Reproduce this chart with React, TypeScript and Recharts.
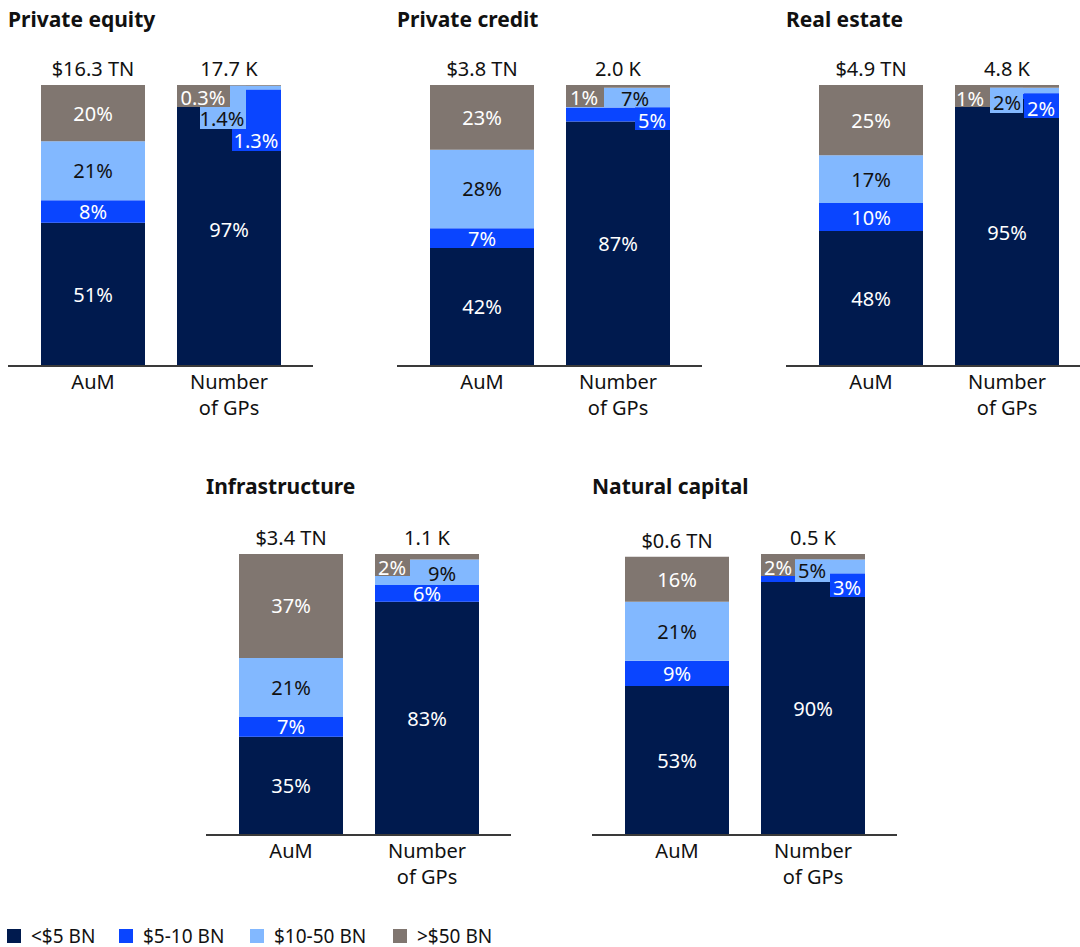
import React from "react";
import { BarChart, Bar, XAxis, YAxis, LabelList } from "recharts";

// size buckets, stacked bottom to top
const BUCKETS = ["<$5 BN", "$5-10 BN", "$10-50 BN", ">$50 BN"];
const COLORS = ["#001a4e", "#0a45ff", "#82b8ff", "#807670"];
const TEXT_ON = ["#ffffff", "#ffffff", "#111111", "#ffffff"];
const CATEGORIES = ["AuM", "Number\nof GPs"];

// % share per bucket
const peAum = [51, 8, 21, 20];
const peGps = [97, 1.3, 1.4, 0.3];
const pcAum = [42, 7, 28, 23];
const pcGps = [87, 5, 7, 1];
const reAum = [48, 10, 17, 25];
const reGps = [95, 2, 2, 1];
const infAum = [35, 7, 21, 37];
const infGps = [83, 6, 9, 2];
const ncAum = [53, 9, 21, 16];
const ncGps = [90, 3, 5, 2];

// totals shown above each bar
const peTotals = ["$16.3 TN", "17.7 K"];
const pcTotals = ["$3.8 TN", "2.0 K"];
const reTotals = ["$4.9 TN", "4.8 K"];
const infTotals = ["$3.4 TN", "1.1 K"];
const ncTotals = ["$0.6 TN", "0.5 K"];

const FONT = "'Noto Sans', 'Open Sans', sans-serif";
const INK = "#111111";
const PLOT_TOP = 50;
const PLOT_H = 281;
const CHART_W = 305;

// thin segments on the GP bar get a coloured tag instead of an inline label:
// box = [left, right, bottom], text = [cx, cy], px from bar left / stack top
type Callout = { box?: [number, number, number]; text: [number, number] };
const CALLOUTS: Record<string, Record<number, Callout>> = {
  "Private equity": {
    1: { box: [55, 104, 66], text: [79, 55] },
    2: { box: [23, 69, 44], text: [45, 33] },
    3: { box: [0, 53, 22], text: [26, 12] },
  },
  "Private credit": {
    1: { box: [69, 104, 45], text: [86, 35] },
    2: { text: [69, 13] },
    3: { box: [0, 38, 22], text: [18, 12] },
  },
  "Real estate": {
    1: { box: [69, 104, 33], text: [86, 23] },
    2: { box: [35, 68, 28], text: [52, 17] },
    3: { box: [0, 35, 22], text: [15, 13] },
  },
  Infrastructure: {
    2: { text: [67, 19] },
    3: { box: [0, 35, 22], text: [17, 13] },
  },
  "Natural capital": {
    1: { box: [69, 104, 43], text: [86, 33] },
    2: { box: [34, 69, 28], text: [51, 16] },
    3: { box: [0, 34, 22], text: [17, 13] },
  },
};

type Panel = {
  title: string;
  aum: number[];
  gps: number[];
  totals: string[];
  left: number;
  top: number;
};

const PANELS: Panel[] = [
  { title: "Private equity", aum: peAum, gps: peGps, totals: peTotals, left: 8, top: 35 },
  { title: "Private credit", aum: pcAum, gps: pcGps, totals: pcTotals, left: 397, top: 35 },
  { title: "Real estate", aum: reAum, gps: reGps, totals: reTotals, left: 786, top: 35 },
  { title: "Infrastructure", aum: infAum, gps: infGps, totals: infTotals, left: 206, top: 504 },
  { title: "Natural capital", aum: ncAum, gps: ncGps, totals: ncTotals, left: 592, top: 504 },
];

const box = (p: any) => {
  const vb = p.viewBox && p.viewBox.width != null ? p.viewBox : p;
  return { x: Number(vb.x), y: Number(vb.y), w: Number(vb.width), h: Number(vb.height) };
};

const segmentLabel = (panel: string, s: number) => (p: any) => {
  if (p.value == null) return null;
  const { x, y, w, h } = box(p);
  const txt = `${p.value}%`;
  const c = p.index === 1 ? CALLOUTS[panel]?.[s] : undefined;
  if (c) {
    return (
      <g>
        {c.box && (
          <rect
            x={x + c.box[0]}
            y={y}
            width={c.box[1] - c.box[0]}
            height={PLOT_TOP + c.box[2] - y}
            fill={COLORS[s]}
          />
        )}
        <text
          x={x + c.text[0]}
          y={PLOT_TOP + c.text[1]}
          textAnchor="middle"
          dominantBaseline="central"
          fontSize={20}
          fontFamily={FONT}
          fill={TEXT_ON[s]}
        >
          {txt}
        </text>
      </g>
    );
  }
  return (
    <text
      x={x + w / 2}
      y={y + h / 2}
      textAnchor="middle"
      dominantBaseline="central"
      fontSize={20}
      fontFamily={FONT}
      fill={TEXT_ON[s]}
    >
      {txt}
    </text>
  );
};

const totalLabel = (totals: string[]) => (p: any) => {
  const { x, y, w } = box(p);
  return (
    <text x={x + w / 2} y={y - 9} textAnchor="middle" fontSize={20} fontFamily={FONT} fill={INK}>
      {totals[p.index]}
    </text>
  );
};

const CategoryTick = (p: any) => {
  const lines = String(p.payload.value).split("\n");
  return (
    <g transform={`translate(${p.x},${p.y})`}>
      {lines.map((l, i) => (
        <text key={i} x={0} y={23 + i * 26} textAnchor="middle" fontSize={20} fontFamily={FONT} fill={INK}>
          {l}
        </text>
      ))}
    </g>
  );
};

function PanelChart({ panel }: { panel: Panel }) {
  const data = CATEGORIES.map((name, i) => {
    const vals = i === 0 ? panel.aum : panel.gps;
    return { name, s0: vals[0], s1: vals[1], s2: vals[2], s3: vals[3] };
  });
  return (
    <BarChart
      width={CHART_W}
      height={PLOT_TOP + PLOT_H + 60}
      data={data}
      margin={{ top: PLOT_TOP, right: 0, bottom: 0, left: 0 }}
      barCategoryGap={16}
    >
      <XAxis
        dataKey="name"
        interval={0}
        height={60}
        padding={{ left: 17, right: 16 }}
        axisLine={{ stroke: "#3a3a3a", strokeWidth: 2 }}
        tickLine={false}
        tickSize={0}
        tickMargin={0}
        tick={<CategoryTick />}
      />
      <YAxis hide domain={[0, 100]} />
      {BUCKETS.map((b, s) => (
        <Bar key={b} dataKey={`s${s}`} name={b} stackId="a" fill={COLORS[s]} isAnimationActive={false}>
          <LabelList dataKey={`s${s}`} content={segmentLabel(panel.title, s)} />
          {s === 3 && <LabelList dataKey="s3" content={totalLabel(panel.totals)} />}
        </Bar>
      ))}
    </BarChart>
  );
}

const LEGEND_X = [7, 119, 250, 393];

export default function App() {
  return (
    <div
      style={{
        position: "absolute",
        left: 0,
        top: 0,
        width: 1080,
        height: 947,
        overflow: "hidden",
        background: "#fff",
        fontFamily: FONT,
      }}
    >
      {PANELS.map((p) => (
        <div key={p.title} style={{ position: "absolute", left: p.left, top: p.top }}>
          <PanelChart panel={p} />
        </div>
      ))}
      <svg width={1080} height={947} style={{ position: "absolute", left: 0, top: 0, pointerEvents: "none" }}>
        {PANELS.map((p) => (
          <text
            key={p.title}
            x={p.left}
            y={p.top < 100 ? 27 : 494}
            fontSize={21}
            fontWeight={700}
            fontFamily={FONT}
            fill={INK}
          >
            {p.title}
          </text>
        ))}
        {BUCKETS.map((b, i) => (
          <g key={b}>
            <rect x={LEGEND_X[i]} y={929} width={14} height={14} fill={COLORS[i]} />
            <text x={LEGEND_X[i] + 24} y={943} fontSize={19} fontFamily={FONT} fill={INK}>
              {b}
            </text>
          </g>
        ))}
      </svg>
    </div>
  );
}
